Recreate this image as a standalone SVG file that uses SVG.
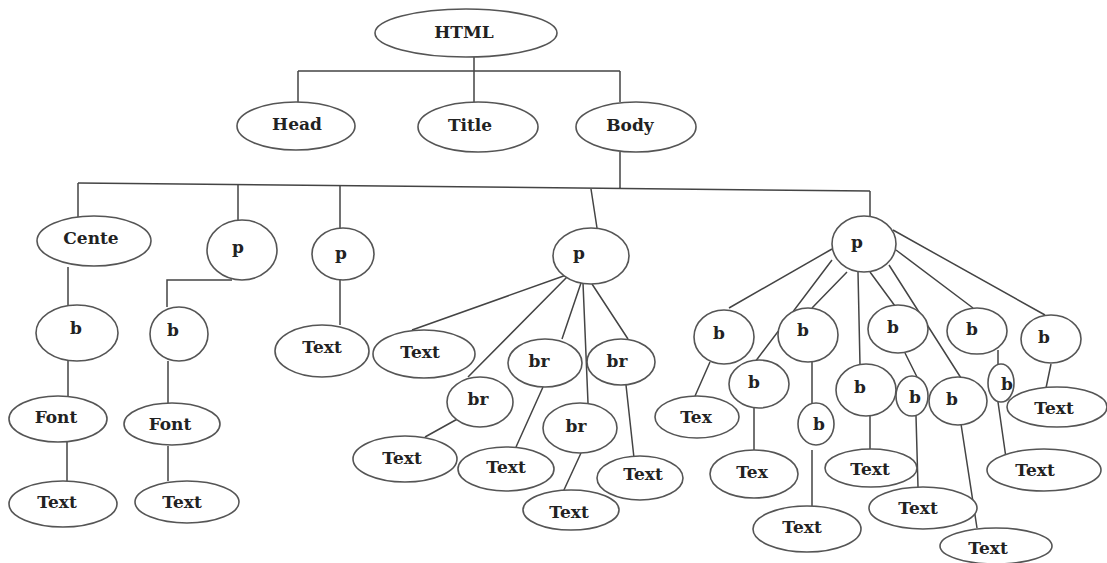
<svg xmlns="http://www.w3.org/2000/svg" width="1107" height="563" viewBox="0 0 1107 563">
  <style>
    .n ellipse { fill: #fff; stroke: #555; stroke-width: 1.6; }
    .n text { font-family: "DejaVu Serif", "Liberation Serif", serif; font-weight: bold; font-size: 17px; fill: #222; text-anchor: middle; }
    #connectors path { fill: none; stroke: #444; stroke-width: 1.5; }
  </style>
  <rect width="1107" height="563" fill="#fff"/>

  <!-- tree edges -->
  <g id="connectors">
    <path d="M474,57 V71 M298,71 H620 M298,71 V102 M474,71 V102 M620,71 V102"/>
    <path d="M620,152 V189 M78,183 L870,191"/>
    <path d="M78,183 V217 M238,184 V220 M340,185 V228 M591,189 L597,228 M870,191 V217"/>
    <path d="M68,267 V307 M68,361 V396 M67,442 V481"/>
    <path d="M232,280 H167 V307 M168,361 V403 M168,446 V481"/>
    <path d="M340,280 V325"/>
    <path d="M572,273 L412,330 M569,275 L468,377 M461,417 L425,437 M581,283 L562,339 M543,387 L516,447 M583,283 L588,403 M581,453 L563,492 M592,284 L628,339 M626,385 L634,458"/>
    <path d="M832,249 L729,308 M832,260 L755,362 M847,272 L812,308 M858,272 L860,365 M870,272 L895,306 M889,265 L961,378 M896,250 L973,308 M893,230 L1045,315"/>
    <path d="M710,362 L695,396 M754,408 V450 M812,361 V403 M812,450 V506 M870,416 V449 M905,353 L917,377 M916,416 L918,487 M961,424 L977,528 M998,350 V365 M998,402 L1006,458 M1051,364 L1046,388"/>
  </g>

  <!-- top levels -->
  <g id="html" class="n"><ellipse cx="466" cy="33" rx="91" ry="24"/><text x="464" y="38">HTML</text></g>
  <g id="head" class="n"><ellipse cx="296" cy="126" rx="59" ry="24"/><text x="297" y="130">Head</text></g>
  <g id="title" class="n"><ellipse cx="478" cy="127" rx="60" ry="25"/><text x="470" y="131">Title</text></g>
  <g id="body" class="n"><ellipse cx="636" cy="127" rx="60" ry="25"/><text x="630" y="131">Body</text></g>

  <!-- center branch -->
  <g id="center" class="n"><ellipse cx="94" cy="241" rx="57" ry="25"/><text x="91" y="244">Cente</text></g>
  <g id="center-b" class="n"><ellipse cx="77" cy="333" rx="41" ry="28"/><text x="76" y="334">b</text></g>
  <g id="center-font" class="n"><ellipse cx="58" cy="419" rx="49" ry="23"/><text x="56" y="423">Font</text></g>
  <g id="center-text" class="n"><ellipse cx="63" cy="504" rx="54" ry="23"/><text x="57" y="508">Text</text></g>

  <!-- first paragraph -->
  <g id="p1" class="n"><ellipse cx="242" cy="250" rx="35" ry="30"/><text x="238" y="253">p</text></g>
  <g id="p1-b" class="n"><ellipse cx="179" cy="334" rx="29" ry="27"/><text x="173" y="336">b</text></g>
  <g id="p1-font" class="n"><ellipse cx="172" cy="424" rx="48" ry="21"/><text x="170" y="430">Font</text></g>
  <g id="p1-text" class="n"><ellipse cx="187" cy="502" rx="52" ry="21"/><text x="182" y="508">Text</text></g>

  <!-- second paragraph -->
  <g id="p2" class="n"><ellipse cx="343" cy="254" rx="31" ry="26"/><text x="341" y="259">p</text></g>
  <g id="p2-text" class="n"><ellipse cx="322" cy="351" rx="47" ry="26"/><text x="322" y="353">Text</text></g>

  <!-- third paragraph -->
  <g id="p3" class="n"><ellipse cx="591" cy="256" rx="38" ry="28"/><text x="579" y="259">p</text></g>
  <g id="p3-text" class="n"><ellipse cx="424" cy="354" rx="51" ry="24"/><text x="420" y="358">Text</text></g>
  <g id="p3-br1" class="n"><ellipse cx="480" cy="402" rx="33" ry="25"/><text x="478" y="405">br</text></g>
  <g id="p3-br1-text" class="n"><ellipse cx="405" cy="459" rx="52" ry="23"/><text x="402" y="464">Text</text></g>
  <g id="p3-br2" class="n"><ellipse cx="545" cy="363" rx="37" ry="24"/><text x="539" y="367">br</text></g>
  <g id="p3-br2-text" class="n"><ellipse cx="506" cy="469" rx="48" ry="22"/><text x="506" y="473">Text</text></g>
  <g id="p3-br3" class="n"><ellipse cx="580" cy="428" rx="37" ry="25"/><text x="576" y="432">br</text></g>
  <g id="p3-br3-text" class="n"><ellipse cx="571" cy="510" rx="48" ry="20"/><text x="569" y="518">Text</text></g>
  <g id="p3-br4" class="n"><ellipse cx="621" cy="362" rx="34" ry="23"/><text x="617" y="367">br</text></g>
  <g id="p3-br4-text" class="n"><ellipse cx="640" cy="478" rx="43" ry="22"/><text x="643" y="480">Text</text></g>

  <!-- fourth paragraph -->
  <g id="p4" class="n"><ellipse cx="864" cy="244" rx="32" ry="28"/><text x="857" y="248">p</text></g>
  <g id="p4-b1" class="n"><ellipse cx="724" cy="337" rx="30" ry="27"/><text x="719" y="339">b</text></g>
  <g id="p4-b1-text" class="n"><ellipse cx="697" cy="417" rx="42" ry="21"/><text x="696" y="423">Tex</text></g>
  <g id="p4-b2" class="n"><ellipse cx="759" cy="384" rx="30" ry="24"/><text x="754" y="388">b</text></g>
  <g id="p4-b2-text" class="n"><ellipse cx="754" cy="474" rx="44" ry="24"/><text x="752" y="478">Tex</text></g>
  <g id="p4-b3" class="n"><ellipse cx="808" cy="335" rx="30" ry="27"/><text x="803" y="336">b</text></g>
  <g id="p4-b3-b" class="n"><ellipse cx="816" cy="424" rx="18" ry="21"/><text x="819" y="430">b</text></g>
  <g id="p4-b3-text" class="n"><ellipse cx="807" cy="529" rx="54" ry="23"/><text x="802" y="533">Text</text></g>
  <g id="p4-b4" class="n"><ellipse cx="866" cy="390" rx="30" ry="26"/><text x="860" y="393">b</text></g>
  <g id="p4-b4-text" class="n"><ellipse cx="871" cy="468" rx="46" ry="19"/><text x="870" y="475">Text</text></g>
  <g id="p4-b5" class="n"><ellipse cx="898" cy="329" rx="30" ry="24"/><text x="893" y="333">b</text></g>
  <g id="p4-b5-b" class="n"><ellipse cx="912" cy="396" rx="16" ry="20"/><text x="915" y="403">b</text></g>
  <g id="p4-b5-text" class="n"><ellipse cx="923" cy="508" rx="54" ry="21"/><text x="918" y="514">Text</text></g>
  <g id="p4-b6" class="n"><ellipse cx="958" cy="401" rx="29" ry="24"/><text x="952" y="405">b</text></g>
  <g id="p4-b6-text" class="n"><ellipse cx="996" cy="546" rx="56" ry="18"/><text x="988" y="554">Text</text></g>
  <g id="p4-b7" class="n"><ellipse cx="977" cy="331" rx="30" ry="23"/><text x="972" y="335">b</text></g>
  <g id="p4-b7-b" class="n"><ellipse cx="1001" cy="383" rx="13" ry="19"/><text x="1007" y="390">b</text></g>
  <g id="p4-b7-text" class="n"><ellipse cx="1044" cy="470" rx="57" ry="21"/><text x="1035" y="476">Text</text></g>
  <g id="p4-b8" class="n"><ellipse cx="1051" cy="339" rx="30" ry="24"/><text x="1044" y="343">b</text></g>
  <g id="p4-b8-text" class="n"><ellipse cx="1057" cy="407" rx="50" ry="20"/><text x="1054" y="414">Text</text></g>
</svg>
